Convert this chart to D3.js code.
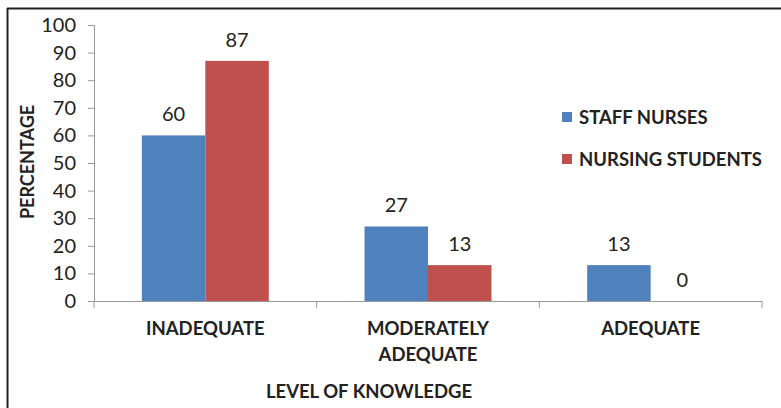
<!DOCTYPE html>
<html><head><meta charset="utf-8">
<script src="https://cdn.jsdelivr.net/npm/d3@7"></script>
<style>body{margin:0;background:#fff}svg{display:block}</style>
</head><body>
<svg id="c" width="781" height="408"></svg>
<script>
const categories = ["INADEQUATE", "MODERATELY ADEQUATE", "ADEQUATE"];
const categoryLines = [["INADEQUATE"], ["MODERATELY", "ADEQUATE"], ["ADEQUATE"]];
const seriesNames = ["STAFF NURSES", "NURSING STUDENTS"];
const staffNurses = [60, 27, 13];
const nursingStudents = [87, 13, 0];
const yTicks = [0, 10, 20, 30, 40, 50, 60, 70, 80, 90, 100];
const colors = ["#4f81bd", "#c0504d"];

const font = "Lato, 'Open Sans', sans-serif";
const svg = d3.select("#c");
// outer frame (top and left visible)
svg.append("line").attr("x1", 7).attr("x2", 781).attr("y1", 8.5).attr("y2", 8.5).attr("stroke", "#222").attr("stroke-width", 2);
svg.append("line").attr("x1", 7.5).attr("x2", 7.5).attr("y1", 8).attr("y2", 408).attr("stroke", "#222").attr("stroke-width", 2);

const x0 = 94, x1 = 762, yTop = 25, yBot = 301;
const x = d3.scaleBand().domain(categories).range([x0, x1]).paddingInner(0).paddingOuter(0);
const xs = d3.scaleBand().domain(seriesNames).range([0, x.bandwidth()]).paddingInner(0).paddingOuter(0.754);
const y = d3.scaleLinear().domain([0, 100]).range([yBot, yTop]);

const series = [staffNurses, nursingStudents];
seriesNames.forEach((s, si) => {
  const g = svg.append("g");
  g.selectAll("rect").data(categories).join("rect")
    .attr("x", c => x(c) + xs(s))
    .attr("width", xs.bandwidth())
    .attr("y", (c, i) => y(series[si][i]))
    .attr("height", (c, i) => y(0) - y(series[si][i]))
    .attr("fill", colors[si]);
  g.selectAll("text").data(categories).join("text")
    .attr("x", c => x(c) + xs(s) + xs.bandwidth() / 2)
    .attr("y", (c, i) => y(series[si][i]) - 14)
    .attr("text-anchor", "middle")
    .attr("font-family", font).attr("font-size", 20).attr("fill", "#222")
    .text((c, i) => series[si][i]);
});

// y axis
const ya = svg.append("g").attr("transform", `translate(${x0},0)`)
  .call(d3.axisLeft(y).tickValues(yTicks).tickSize(6).tickPadding(12));
ya.select(".domain").attr("stroke", "#999");
ya.selectAll(".tick line").attr("stroke", "#999");
ya.selectAll(".tick text").attr("font-family", font).attr("font-size", 20).attr("fill", "#222");

// x axis
const xa = svg.append("g").attr("transform", `translate(0,${yBot})`);
xa.append("line").attr("x1", x0).attr("x2", x1).attr("y1", 0.5).attr("y2", 0.5).attr("stroke", "#999");
const bounds = categories.map(c => x(c)).concat([x1]);
xa.selectAll("line.t").data(bounds).join("line").attr("class", "t")
  .attr("x1", d => d).attr("x2", d => d).attr("y1", 0).attr("y2", 7).attr("stroke", "#999");

categories.forEach((c, i) => {
  const t = svg.append("text").attr("text-anchor", "middle")
    .attr("font-family", font).attr("font-size", 18.5).attr("font-weight", "bold").attr("fill", "#222");
  categoryLines[i].forEach((ln, li) => {
    t.append("tspan").attr("x", x(c) + x.bandwidth() / 2).attr("y", 335 + li * 26).text(ln);
  });
});

svg.append("text").attr("x", 369).attr("y", 398).attr("text-anchor", "middle")
  .attr("font-family", font).attr("font-size", 18.5).attr("font-weight", "bold").attr("fill", "#222")
  .text("LEVEL OF KNOWLEDGE");
svg.append("text").attr("transform", "translate(34,162) rotate(-90)").attr("text-anchor", "middle")
  .attr("font-family", font).attr("font-size", 18).attr("font-weight", "bold").attr("fill", "#222")
  .text("PERCENTAGE");

// legend
seriesNames.forEach((s, i) => {
  const ly = 117 + i * 42;
  svg.append("rect").attr("x", 562).attr("y", ly - 5).attr("width", 10).attr("height", 10).attr("fill", colors[i]);
  svg.append("text").attr("x", 579).attr("y", ly + 7)
    .attr("font-family", font).attr("font-size", 18.5).attr("font-weight", "bold").attr("fill", "#222")
    .text(s);
});
</script>
</body></html>
